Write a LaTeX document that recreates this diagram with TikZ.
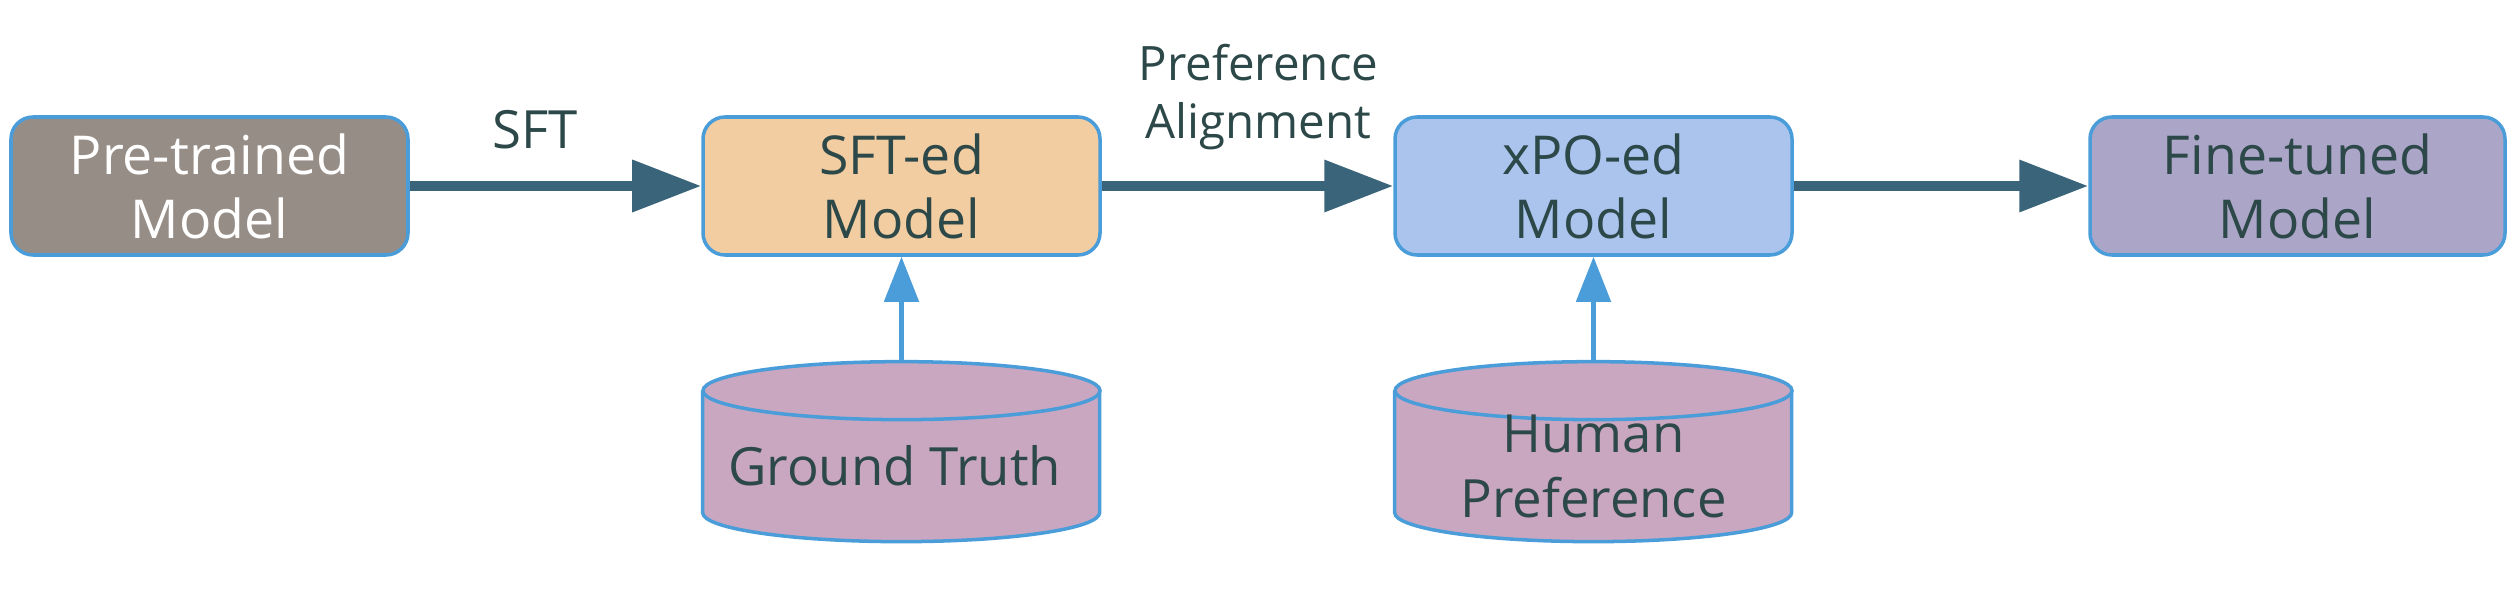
\documentclass[tikz,border=0pt]{standalone}
\usepackage{fontspec}
\setmainfont{Open Sans}
\usetikzlibrary{arrows.meta,backgrounds,calc}
\definecolor{pregray}{HTML}{968D87}
\definecolor{sftpeach}{HTML}{F2CDA2}
\definecolor{xpoblue}{HTML}{AAC4EE}
\definecolor{finelilac}{HTML}{ABA6C8}
\definecolor{dbmauve}{HTML}{C9A7C1}
\definecolor{edgeblue}{HTML}{4B9DD9}
\definecolor{textgray}{HTML}{2D4848}
\definecolor{arrowteal}{HTML}{3A6479}
\def\boxwid{7.94cm}
\def\boxhgt{2.76cm}
\def\boxhgap{12.84cm}
\def\dbvgap{4.6cm}
\def\dbrx{3.97cm}
\def\dbry{0.58cm}
\def\dbbody{2.44cm}

\begin{document}
\begin{tikzpicture}[
            model/.style={%
                rectangle, rounded corners=0.44cm, line width=2pt,%
                minimum width=\boxwid, minimum height=\boxhgt,%
                align=center, draw=edgeblue, text=textgray,%
                font=\fontsize{30.5}{36.5}\selectfont%
            },
            database/.style={%
                rectangle, inner sep=0pt,%
                minimum width=\boxwid, minimum height=4.16cm,%
                align=center, text=textgray,%
                font=\fontsize{30}{37}\selectfont%
            },
            dbshape/.style={line width=2pt, draw=edgeblue, fill=dbmauve},
            edgetext/.style={%
                align=center, inner sep=0pt, text=textgray,%
                font=\fontsize{27}{33}\selectfont%
            },
            arrow/.style={line width=5.7pt, draw=arrowteal,%
                -{Triangle[length=1.38cm,width=1cm]}},
            feed/.style={line width=2.8pt, draw=edgeblue,%
                -{Triangle[length=0.9cm,width=0.68cm]}}
        ]

        \useasboundingbox (0,0) rectangle (50.36,-12.28);

        % Define nodes
        \node (preModel) [model, fill=pregray, text=white] at (4.19,-3.72) {%
            Pre-trained\\Model
        };
        \node (sftModel) [model, fill=sftpeach, right of=preModel, xshift=\boxhgap] {%
            SFT-ed\\Model
        };
        \node (xpoModel) [model, fill=xpoblue, right of=sftModel, xshift=\boxhgap] {%
            xPO-ed\\Model
        };
        \node (fineModel) [model, fill=finelilac, minimum width=8.3cm,%
            right of=xpoModel, xshift=\boxhgap+0.24cm] {%
            Fine-tuned\\Model
        };
        \node (groundTruth) [database, below of=sftModel, yshift=-\dbvgap] {%
            Ground Truth
        };
        \node (humanPref) [database, below of=xpoModel, yshift=-\dbvgap] {%
            Human\\Preference
        };

        % Cylinders behind the database texts
        \begin{scope}[on background layer]
            \foreach \db in {groundTruth, humanPref} {
                \path [dbshape]
                    ([yshift=-\dbry]\db.north west) -- ++(0,-\dbbody)
                    arc[start angle=180, end angle=360, x radius=\dbrx, y radius=\dbry]
                    -- ++(0,\dbbody);
                \path [dbshape]
                    ([yshift=-\dbry]\db.north) ellipse [x radius=\dbrx, y radius=\dbry];
            }
        \end{scope}

        \draw [arrow] (preModel) -- 
            node[edgetext, above=0.64cm, xshift=-0.4cm, font=\fontsize{30}{34}\selectfont] {SFT} (sftModel);
        \draw [arrow] (sftModel) -- 
            node[edgetext, above=0.62cm, xshift=0.22cm] {Preference\\Alignment} (xpoModel);
        \draw [arrow] (xpoModel) -- (fineModel);

        \draw [feed] (groundTruth) -- (sftModel);
        \draw [feed] (humanPref) -- (xpoModel);

        \end{tikzpicture}
\end{document}
